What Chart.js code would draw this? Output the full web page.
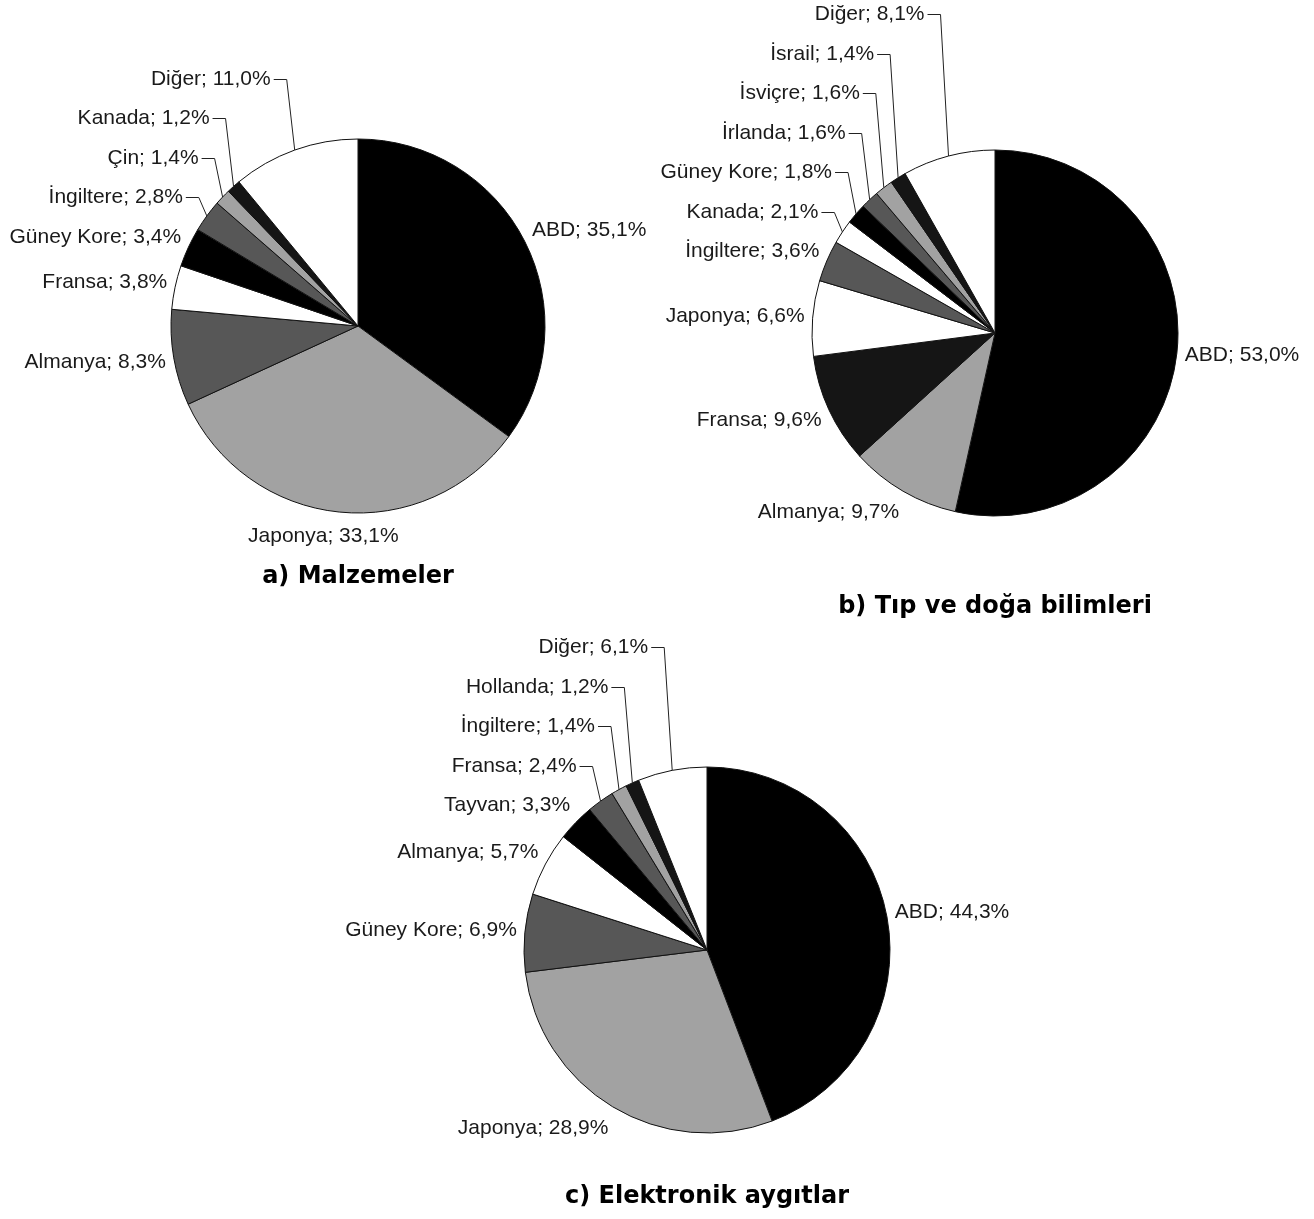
<!DOCTYPE html>
<html>
<head>
<meta charset="utf-8">
<script src="https://cdn.jsdelivr.net/npm/chart.js@4.4.0/dist/chart.umd.min.js"></script>
<style>
  html, body { margin: 0; padding: 0; background: #fff; overflow: hidden; }
  body { width: 1314px; height: 1219px; position: relative; }
  canvas { position: absolute; }
</style>
</head>
<body>
<canvas id="pieA"></canvas>
<canvas id="pieB"></canvas>
<canvas id="pieC"></canvas>
<script>
// a) Malzemeler
const countriesA = ['ABD', 'Japonya', 'Almanya', 'Fransa', 'Güney Kore', 'İngiltere', 'Çin', 'Kanada', 'Diğer'];
const sharesA = [35.1, 33.1, 8.3, 3.8, 3.4, 2.8, 1.4, 1.2, 11.0];

// b) Tıp ve doğa bilimleri
const countriesB = ['ABD', 'Almanya', 'Fransa', 'Japonya', 'İngiltere', 'Kanada', 'Güney Kore', 'İrlanda', 'İsviçre', 'İsrail', 'Diğer'];
const sharesB = [53.0, 9.7, 9.6, 6.6, 3.6, 2.1, 1.8, 1.6, 1.6, 1.4, 8.1];

// c) Elektronik aygıtlar
const countriesC = ['ABD', 'Japonya', 'Güney Kore', 'Almanya', 'Tayvan', 'Fransa', 'İngiltere', 'Hollanda', 'Diğer'];
const sharesC = [44.3, 28.9, 6.9, 5.7, 3.3, 2.4, 1.4, 1.2, 6.1];

const titles = ['a) Malzemeler', 'b) Tıp ve doğa bilimleri', 'c) Elektronik aygıtlar'];

// fills (grey scale like the print)
const BLK = '#000000', NBLK = '#151515', DGR = '#575757', LGR = '#a2a2a2', WHT = '#ffffff';
const colorsA = [BLK, LGR, DGR, WHT, BLK, DGR, LGR, NBLK, WHT];
const colorsB = [BLK, LGR, NBLK, WHT, DGR, WHT, BLK, DGR, LGR, NBLK, WHT];
const colorsC = [BLK, LGR, DGR, WHT, BLK, DGR, LGR, NBLK, WHT];

// where each pie sits on the page
const layoutA = { left: 0, top: 0, width: 650, cx: 358, cy: 326, r: 187, titleY: 577 };
const layoutB = { left: 640, top: 0, width: 674, cx: 995, cy: 333, r: 183, titleY: 607 };
const layoutC = { left: 300, top: 630, width: 800, cx: 707, cy: 950, r: 183, titleY: 1197 };

const TITLE_SIZE = 24;
const TITLE_H = TITLE_SIZE * 1.2;
const LABEL_STEP = 39.5;

const clamp1 = v => Math.max(-1, Math.min(1, v));

// "Name; 12,3%" labels, stacked with leader lines where they crowd
const sliceLabels = {
  id: 'sliceLabels',
  afterDatasetsDraw(chart) {
    const ctx = chart.ctx;
    const meta = chart.getDatasetMeta(0);
    const vals = chart.data.datasets[0].data;
    ctx.save();
    ctx.font = '21px "Liberation Sans", Arial, sans-serif';
    ctx.fillStyle = '#1a1a1a';
    ctx.strokeStyle = '#222';
    ctx.lineWidth = 1;
    ctx.textBaseline = 'middle';

    const items = meta.data.map((arc, i) => {
      const mid = (arc.startAngle + arc.endAngle) / 2;
      const ux = Math.cos(mid), uy = Math.sin(mid);
      const r = arc.outerRadius;
      const text = chart.data.labels[i] + '; ' + vals[i].toFixed(1).replace('.', ',') + '%';
      const w = ctx.measureText(text).width;
      const px = arc.x + ux * (r + 8), py = arc.y + uy * (r + 8);
      const ly = py + uy * 16.5;
      return { text, ux, ax: arc.x + ux * r, ay: arc.y + uy * r, lx: px + clamp1(2 * ux) * w / 2, ly, ny: ly };
    });

    // left side: push crowded labels upward
    const left = items.filter(it => it.ux < 0).sort((a, b) => b.ny - a.ny);
    for (let k = 1; k < left.length; k++) {
      const lim = left[k - 1].ly - LABEL_STEP;
      if (left[k].ly > lim) left[k].ly = lim;
    }

    items.forEach(it => {
      if (it.ny - it.ly > 3) {
        const endX = it.ax - 24;
        ctx.textAlign = 'right';
        ctx.fillText(it.text, endX, it.ly);
        ctx.beginPath();
        ctx.moveTo(endX + 3, Math.round(it.ly) + 0.5);
        ctx.lineTo(it.ax - 8, Math.round(it.ly) + 0.5);
        ctx.lineTo(it.ax, it.ay);
        ctx.stroke();
      } else {
        ctx.textAlign = 'center';
        ctx.fillText(it.text, it.lx, it.ly);
      }
    });
    ctx.restore();
  }
};

function makePie(id, lay, labels, values, colors, title) {
  const cv = document.getElementById(id);
  const H = Math.round(lay.titleY - lay.top + TITLE_H / 2);
  cv.width = lay.width;
  cv.height = H;
  cv.style.left = lay.left + 'px';
  cv.style.top = lay.top + 'px';

  const avail = H - TITLE_H;
  const pt = 2 * (lay.cy - lay.top) - avail;
  const rel = lay.cx - lay.left;
  const pl = Math.max(2 * rel - lay.width, 0);
  const pr = Math.max(lay.width - 2 * rel, 0);

  return new Chart(cv, {
    type: 'pie',
    data: {
      labels: labels,
      datasets: [{
        data: values,
        backgroundColor: colors,
        borderColor: '#111',
        borderWidth: 1,
        radius: lay.r
      }]
    },
    options: {
      responsive: false,
      animation: false,
      layout: { padding: { top: pt, bottom: 0, left: pl, right: pr } },
      plugins: {
        legend: { display: false },
        tooltip: { enabled: false },
        title: {
          display: true,
          text: title,
          position: 'bottom',
          color: '#000',
          padding: 0,
          font: { family: '"DejaVu Sans", Arial, sans-serif', weight: 'bold', size: TITLE_SIZE }
        }
      }
    },
    plugins: [sliceLabels]
  });
}

makePie('pieA', layoutA, countriesA, sharesA, colorsA, titles[0]);
makePie('pieB', layoutB, countriesB, sharesB, colorsB, titles[1]);
makePie('pieC', layoutC, countriesC, sharesC, colorsC, titles[2]);
</script>
</body>
</html>
